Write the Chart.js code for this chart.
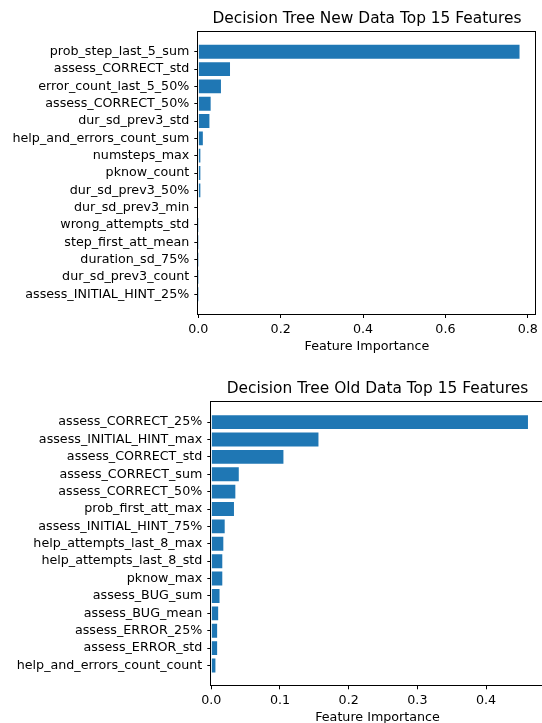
<!DOCTYPE html>
<html>
<head>
<meta charset="utf-8">
<script src="https://cdn.jsdelivr.net/npm/chart.js@4"></script>
<style>
  html, body { margin: 0; padding: 0; background: #fff; width: 542px; height: 723px; overflow: hidden; }
  canvas { position: absolute; left: 0; }
  #newChart { top: 0; }
  #oldChart { top: 362px; }
</style>
</head>
<body>
<canvas id="newChart" width="542" height="362"></canvas>
<canvas id="oldChart" width="550" height="375"></canvas>
<script>
// feature importances (top bar first)
const newTitle = 'Decision Tree New Data Top 15 Features';
const newFeatures = ['prob_step_last_5_sum', 'assess_CORRECT_std', 'error_count_last_5_50%', 'assess_CORRECT_50%',
  'dur_sd_prev3_std', 'help_and_errors_count_sum', 'numsteps_max', 'pknow_count', 'dur_sd_prev3_50%',
  'dur_sd_prev3_min', 'wrong_attempts_std', 'step_first_att_mean', 'duration_sd_75%', 'dur_sd_prev3_count',
  'assess_INITIAL_HINT_25%'];
const newValues = [0.780, 0.077, 0.055, 0.030, 0.027, 0.011, 0.005, 0.005, 0.005, 0.0012, 0.0004, 0.0003, 0.0002, 0.0001, 0.0001];
const newTicks = [0, 0.2, 0.4, 0.6, 0.8];

const oldTitle = 'Decision Tree Old Data Top 15 Features';
const oldFeatures = ['assess_CORRECT_25%', 'assess_INITIAL_HINT_max', 'assess_CORRECT_std', 'assess_CORRECT_sum',
  'assess_CORRECT_50%', 'prob_first_att_max', 'assess_INITIAL_HINT_75%', 'help_attempts_last_8_max',
  'help_attempts_last_8_std', 'pknow_max', 'assess_BUG_sum', 'assess_BUG_mean', 'assess_ERROR_25%',
  'assess_ERROR_std', 'help_and_errors_count_count'];
const oldValues = [0.461, 0.156, 0.105, 0.040, 0.035, 0.033, 0.0195, 0.0175, 0.016, 0.016, 0.012, 0.010, 0.0085, 0.0085, 0.006];
const oldTicks = [0, 0.1, 0.2, 0.3, 0.4];

const xLabel = 'Feature Importance';
const barColor = '#1f77b4';
const fontFamily = '"DejaVu Sans", sans-serif';
const labelSize = 12.7;
const titleSize = 15.4;

// frame + title drawn over the chart area like matplotlib does
const framePlugin = {
  id: 'frame',
  afterDraw(chart, args, opts) {
    const a = chart.chartArea;
    const ctx = chart.ctx;
    ctx.save();
    ctx.strokeStyle = '#000';
    ctx.lineWidth = 1;
    ctx.strokeRect(Math.round(a.left) - 0.5, Math.round(a.top) - 0.5,
      Math.round(a.right - a.left) + 1, Math.round(a.bottom - a.top) + 1);
    ctx.fillStyle = '#000';
    ctx.font = titleSize + 'px ' + fontFamily;
    ctx.textAlign = 'center';
    ctx.textBaseline = 'middle';
    ctx.fillText(opts.text, (a.left + a.right) / 2, opts.y);
    ctx.restore();
  }
};

function makeChart(id, title, features, values, ticks, box) {
  new Chart(id, {
    type: 'bar',
    data: {
      datasets: [{
        data: values.map((v, i) => ({ x: v, y: i })),
        backgroundColor: barColor,
        borderWidth: 0,
        categoryPercentage: 1,
        barPercentage: 0.8
      }]
    },
    options: {
      indexAxis: 'y',
      responsive: false,
      animation: false,
      devicePixelRatio: 1,
      layout: { padding: box.padding },
      plugins: {
        legend: { display: false },
        tooltip: { enabled: false },
        frame: { text: title, y: box.titleY }
      },
      scales: {
        x: {
          type: 'linear',
          min: 0,
          max: Math.max(...values) * 1.05,
          afterBuildTicks: s => { s.ticks = ticks.map(v => ({ value: v })); },
          afterFit: s => { s.height = box.xHeight; },
          border: { display: false },
          grid: { drawOnChartArea: false, drawTicks: true, tickLength: 4, color: '#000' },
          ticks: { color: '#000', padding: 4, font: { family: fontFamily, size: labelSize },
                   callback: v => v.toFixed(1), maxRotation: 0 },
          title: { display: true, text: xLabel, color: '#000', padding: 0,
                   font: { family: fontFamily, size: labelSize } }
        },
        y: {
          type: 'linear',
          reverse: true,
          offset: false,
          min: -1.14,
          max: features.length - 1 + 1.14,
          afterBuildTicks: s => { s.ticks = features.map((f, i) => ({ value: i })); },
          afterFit: s => { s.width = box.yWidth; },
          border: { display: false },
          grid: { offset: false, drawOnChartArea: false, drawTicks: true, tickLength: 4, color: '#000' },
          ticks: { color: '#000', padding: 5, autoSkip: false, font: { family: fontFamily, size: labelSize },
                   callback: (v, i) => features[i] }
        }
      }
    },
    plugins: [framePlugin]
  });
}

makeChart('newChart', newTitle, newFeatures, newValues, newTicks, {
  padding: { left: 0, right: 6.3, top: 32, bottom: 8.1 },
  yWidth: 198.3, xHeight: 39.9, titleY: 18.5
});
makeChart('oldChart', oldTitle, oldFeatures, oldValues, oldTicks, {
  padding: { left: 0, right: 6.2, top: 40.3, bottom: 11.3 },
  yWidth: 211.3, xHeight: 40.4, titleY: 26.5
});
</script>
</body>
</html>
